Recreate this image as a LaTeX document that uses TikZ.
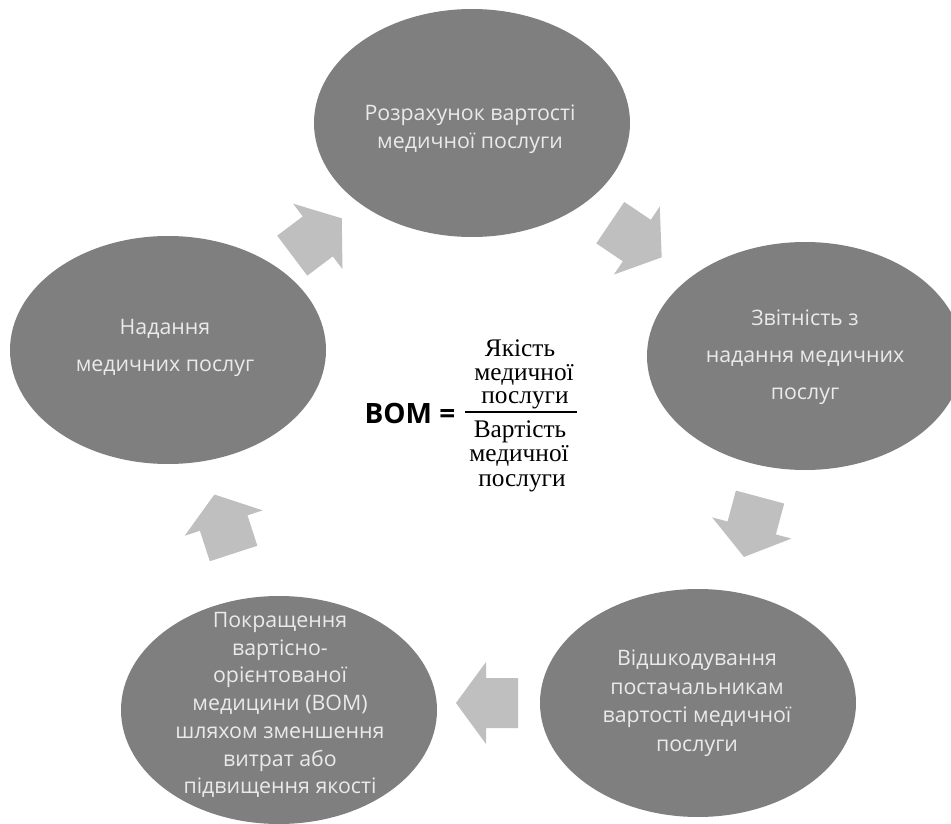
\documentclass[tikz,border=0pt]{standalone}
\usepackage{fontspec}
\setmainfont{Open Sans}
\newfontfamily\fracfont{Liberation Serif}
\usetikzlibrary{shapes.geometric}
\definecolor{blobgray}{HTML}{7F7F7F}
\definecolor{arrowgray}{HTML}{BFBFBF}
\definecolor{textlight}{HTML}{EAEAEA}
\begin{document}
\begin{tikzpicture}[x=0.75pt,y=-0.75pt,
  blob/.style={ellipse, fill=blobgray, minimum width=237pt, minimum height=171pt, inner sep=0pt},
  lbl/.style={text=textlight, align=center, inner sep=0pt, font=\fontsize{16}{#1}\selectfont},
  fracline/.style={text=black, inner sep=0pt, anchor=base, text depth=0pt, font=\fracfont\fontsize{19}{22}\selectfont},
  bomstyle/.style={text=black, inner sep=0pt, font=\bfseries\fontsize{21}{24}\selectfont},
  blockarrow/.pic={\fill[arrowgray] (-31,-25) -- (1,-25) -- (1,-41) -- (31,0) -- (1,41) -- (1,25) -- (-31,25) -- cycle;}
]
\useasboundingbox[fill=white] (0,0) rectangle (951,824);

% ellipses
\node[blob] (top) at (472,123) {};
\node[blob] (right) at (805,356) {};
\node[blob] (bright) at (698,703) {};
\node[blob] (bleft) at (279,710) {};
\node[blob] (left) at (168,350) {};

% ellipse texts
\node[lbl=21] (toptxt) at (470,129) {Розрахунок вартості\\медичної послуги};
\node[lbl=27.75] (righttxt) at (805,357) {Звітність з\\надання медичних\\послуг};
\node[lbl=21.4] (brighttxt) at (697,703) {Відшкодування\\постачальникам\\вартості медичної\\послуги};
\node[lbl=20.8] (blefttxt) at (280,705) {Покращення\\вартісно-\\орієнтованої\\медицини (ВОМ)\\шляхом зменшення\\витрат або\\підвищення якості};
\node[lbl=27.75] (lefttxt) at (165,348) {Надання\\медичних послуг};

% block arrows
\pic[rotate=37] at (317,237) {blockarrow};
\pic[rotate=-34] at (636,240) {blockarrow};
\pic[rotate=-105] at (752,527) {blockarrow};
\pic[rotate=180] at (487,703) {blockarrow};
\pic[rotate=108] at (224,524) {blockarrow};

% formula
\node[bomstyle] (bom) at (410,413) {ВОМ =};
\coordinate (fl) at (465,412);
\coordinate (fr) at (577,412);
\draw[line width=0.9pt] (fl) -- (fr);
\node[fracline] (n1) at (520,356) {Якість};
\node[fracline] (n2) at (524,380) {медичної};
\node[fracline] (n3) at (525,403) {послуги};
\node[fracline] (d1) at (520,437) {Вартість};
\node[fracline] (d2) at (519,461) {медичної};
\node[fracline] (d3) at (522,486) {послуги};
\end{tikzpicture}
\end{document}
